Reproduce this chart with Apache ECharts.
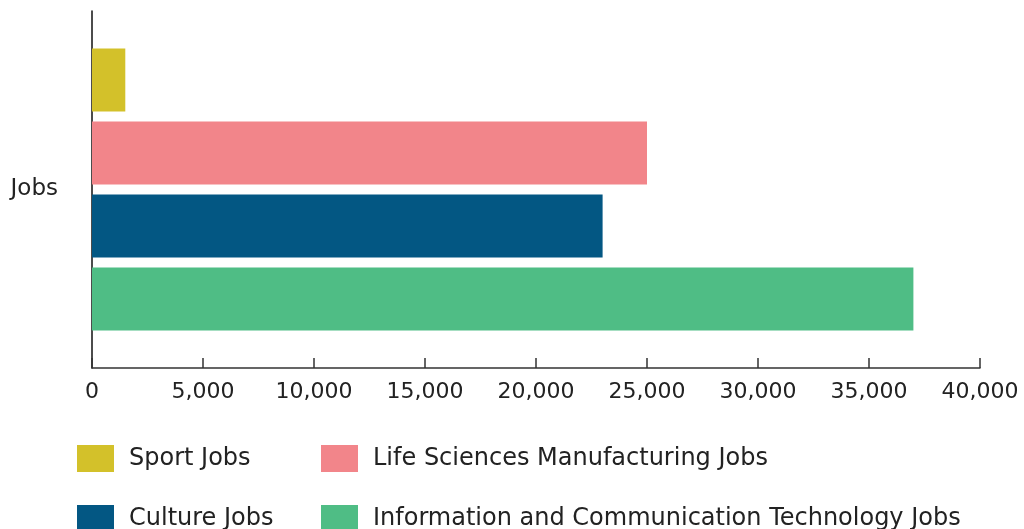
<!DOCTYPE html>
<html>
<head>
<meta charset="utf-8">
<script src="https://cdn.jsdelivr.net/npm/echarts@6/dist/echarts.min.js"></script>
<style>
html,body{margin:0;padding:0;background:#fff;}
#chart{width:1024px;height:529px;}
</style>
</head>
<body>
<div id="chart"></div>
<script>
const categories = ['Jobs'];
const seriesNames = ['Sport Jobs', 'Life Sciences Manufacturing Jobs', 'Culture Jobs', 'Information and Communication Technology Jobs'];
const sportJobs = [1500];
const lifeSciencesJobs = [25000];
const cultureJobs = [23000];
const ictJobs = [37000];
const xTicks = [0, 5000, 10000, 15000, 20000, 25000, 30000, 35000, 40000];
const colors = ['#D3C12A', '#F2858A', '#035783', '#4FBD85'];

const values = [sportJobs, lifeSciencesJobs, cultureJobs, ictJobs];
const font = 'DejaVu Sans';

const chart = echarts.init(document.getElementById('chart'), null, {renderer: 'canvas'});

const series = seriesNames.map((n, i) => ({
  name: n,
  type: 'bar',
  data: values[i],
  barWidth: 63,
  barGap: '16%',
  itemStyle: {color: colors[i]}
}));

const legendPos = [[77, 445], [321, 445], [77, 505], [321, 505]];
const legends = seriesNames.map((n, i) => ({
  data: [n],
  left: legendPos[i][0],
  top: legendPos[i][1],
  padding: 0,
  orient: 'horizontal',
  icon: 'rect',
  itemWidth: 37,
  itemHeight: 27,
  selectedMode: false,
  textStyle: {fontFamily: font, fontSize: 24, color: '#222', padding: [2, 0, 0, 10]}
}));

chart.setOption({
  animation: false,
  color: colors,
  grid: {left: 92, right: 44, top: 11, bottom: 161, containLabel: false},
  legend: legends,
  xAxis: {
    type: 'value',
    min: xTicks[0],
    max: xTicks[xTicks.length - 1],
    interval: xTicks[1] - xTicks[0],
    axisLine: {show: true, lineStyle: {color: '#333', width: 1.5}},
    axisTick: {show: true, inside: true, length: 10, lineStyle: {color: '#333', width: 1.5}},
    splitLine: {show: false},
    axisLabel: {
      margin: 13,
      fontFamily: font, fontSize: 22, color: '#222',
      formatter: v => v.toLocaleString('en-US')
    }
  },
  yAxis: {
    type: 'category',
    data: categories,
    inverse: true,
    axisLine: {show: true, lineStyle: {color: '#111', width: 1.5}},
    axisTick: {show: false},
    axisLabel: {margin: 34, fontFamily: font, fontSize: 23, color: '#222', padding: [0, 0, 6, 0]}
  },
  series: series
});
</script>
</body>
</html>
